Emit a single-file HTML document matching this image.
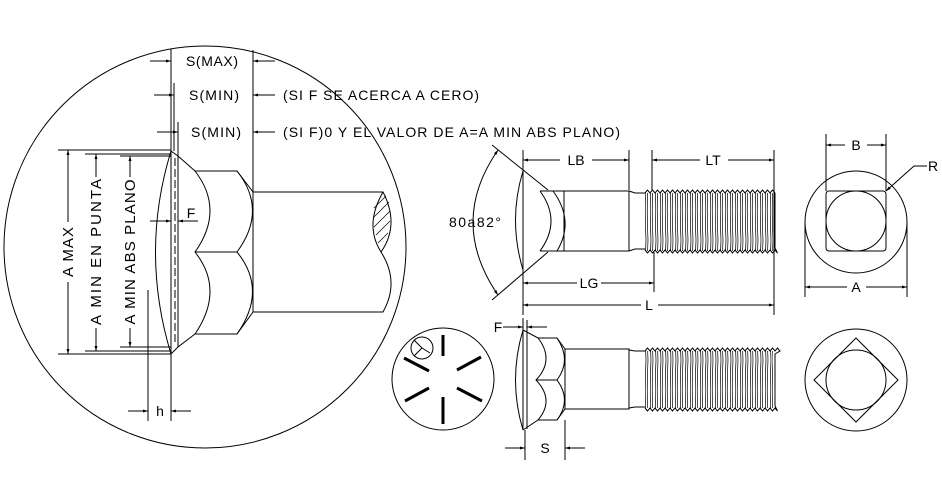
<!DOCTYPE html>
<html><head><meta charset="utf-8"><style>
html,body{margin:0;padding:0;background:#fff;}
svg{display:block;}
text{font-family:"Liberation Sans",sans-serif;font-size:14px;fill:#000;}
</style></head><body>
<svg width="942" height="504" viewBox="0 0 942 504" xmlns="http://www.w3.org/2000/svg">
<defs>
<marker id="ar" viewBox="0 0 10 6" refX="10" refY="3" markerWidth="7" markerHeight="3" orient="auto-start-reverse" markerUnits="userSpaceOnUse"><path d="M0,0L10,3L0,6z"/></marker>
<pattern id="thr" width="5" height="60" patternUnits="userSpaceOnUse">
<path d="M1,0 C0,20 0,40 1,60 M3,0 C2,20 2,40 3,60" stroke="#000" stroke-width="0.7" fill="none"/>
</pattern>
</defs>
<g fill="none" stroke="#000" stroke-width="1">
<circle cx="205" cy="247" r="201"/>
<line x1="171" y1="49" x2="171" y2="421"/>
<line x1="253" y1="50" x2="253" y2="192"/>
<line x1="174" y1="83" x2="174" y2="151"/>
<line x1="178" y1="122" x2="178" y2="156"/>
<line x1="150" y1="61" x2="171" y2="61" marker-end="url(#ar)"/>
<line x1="275" y1="61" x2="253" y2="61" marker-end="url(#ar)"/>
<line x1="154" y1="95" x2="174" y2="95" marker-end="url(#ar)"/>
<line x1="275" y1="95" x2="253" y2="95" marker-end="url(#ar)"/>
<line x1="157" y1="132" x2="178" y2="132" marker-end="url(#ar)"/>
<line x1="275" y1="132" x2="253" y2="132" marker-end="url(#ar)"/>
<line x1="58" y1="150" x2="171" y2="150"/><line x1="58" y1="354" x2="171" y2="354"/>
<line x1="85" y1="154" x2="171" y2="154"/><line x1="85" y1="351" x2="171" y2="351"/>
<line x1="120" y1="156" x2="171" y2="156"/><line x1="120" y1="347" x2="171" y2="347"/>
<line x1="68" y1="222" x2="68" y2="150" marker-end="url(#ar)"/>
<line x1="68" y1="282" x2="68" y2="354" marker-end="url(#ar)"/>
<line x1="96" y1="177" x2="96" y2="154" marker-end="url(#ar)"/>
<line x1="96" y1="328" x2="96" y2="351" marker-end="url(#ar)"/>
<line x1="130" y1="177" x2="130" y2="156" marker-end="url(#ar)"/>
<line x1="130" y1="328" x2="130" y2="347" marker-end="url(#ar)"/>
<path d="M171,151 Q140,252 171,354"/>
<line x1="178" y1="156" x2="178" y2="347"/>
<line x1="175" y1="158" x2="175" y2="345" stroke-dasharray="8,3"/>
<path d="M171,151 L178,156 L195,171 L237,171 L253,192 L253,312 L237,334 L195,334 L178,347 L171,354"/>
<path d="M195,171 Q225,210 195,252 Q225,290 195,334"/>
<path d="M237,171 Q268,210 237,252 Q268,290 237,334"/>
<line x1="195" y1="252" x2="237" y2="252"/>
<path d="M253,192 L383,192 Q400,225 381,252 Q400,282 383,312 L253,312"/>
<path d="M383,192 Q364,225 381,252"/>
<g stroke-width="0.7"><line x1="374" y1="208" x2="386" y2="196"/><line x1="373" y1="218" x2="389" y2="202"/><line x1="374" y1="227" x2="390" y2="211"/><line x1="376" y1="235" x2="390" y2="221"/><line x1="378" y1="243" x2="388" y2="233"/></g>
<line x1="150" y1="221" x2="171" y2="221" marker-end="url(#ar)"/>
<line x1="198" y1="221" x2="178" y2="221" marker-end="url(#ar)"/>
<line x1="148" y1="290" x2="148" y2="421"/>
<line x1="128" y1="411" x2="148" y2="411" marker-end="url(#ar)"/>
<line x1="191" y1="411" x2="171" y2="411" marker-end="url(#ar)"/>

<line x1="523" y1="150" x2="523" y2="315"/>
<path d="M523,171 Q508,220 523,270"/>
<line x1="492" y1="145" x2="548" y2="190"/>
<line x1="548" y1="252" x2="492" y2="300"/>
<path d="M498,150 Q448,222 498,295" marker-start="url(#ar)" marker-end="url(#ar)"/>
<path d="M540,191 L629,191 M540,251 L629,251 M564,191 L564,251 M629,191 L629,251"/>
<path d="M540,191 Q562,221 540,251"/>
<path d="M553,191 Q575,221 557,251"/>
<path d="M629,191 L635,193 L645,193 M629,251 L635,249 L645,249"/>
<rect x="645" y="193" width="128" height="58" fill="url(#thr)" stroke="none"/>
<path d="M645,193 l2.5,-3 2.5,3 2.5,-3 2.5,3 2.5,-3 2.5,3 2.5,-3 2.5,3 2.5,-3 2.5,3 2.5,-3 2.5,3 2.5,-3 2.5,3 2.5,-3 2.5,3 2.5,-3 2.5,3 2.5,-3 2.5,3 2.5,-3 2.5,3 2.5,-3 2.5,3 2.5,-3 2.5,3 2.5,-3 2.5,3 2.5,-3 2.5,3 2.5,-3 2.5,3 2.5,-3 2.5,3 2.5,-3 2.5,3 2.5,-3 2.5,3 2.5,-3 2.5,3 2.5,-3 2.5,3 2.5,-3 2.5,3 2.5,-3 2.5,3 2.5,-3 2.5,3 2.5,-3 2.5,3 2.5,-3 2.5,3 L775,196 L775,248"/>
<path d="M645,250 l2.5,3 2.5,-3 2.5,3 2.5,-3 2.5,3 2.5,-3 2.5,3 2.5,-3 2.5,3 2.5,-3 2.5,3 2.5,-3 2.5,3 2.5,-3 2.5,3 2.5,-3 2.5,3 2.5,-3 2.5,3 2.5,-3 2.5,3 2.5,-3 2.5,3 2.5,-3 2.5,3 2.5,-3 2.5,3 2.5,-3 2.5,3 2.5,-3 2.5,3 2.5,-3 2.5,3 2.5,-3 2.5,3 2.5,-3 2.5,3 2.5,-3 2.5,3 2.5,-3 2.5,3 2.5,-3 2.5,3 2.5,-3 2.5,3 2.5,-3 2.5,3 2.5,-3 2.5,3 2.5,-3 2.5,3 2.5,-3 2.5,3 L775,248"/>
<line x1="629" y1="150" x2="629" y2="190"/><line x1="652" y1="150" x2="652" y2="190"/>
<line x1="774" y1="150" x2="774" y2="315"/><line x1="654" y1="252" x2="654" y2="292"/>
<line x1="560" y1="160" x2="523" y2="160" marker-end="url(#ar)"/><line x1="592" y1="160" x2="629" y2="160" marker-end="url(#ar)"/>
<line x1="700" y1="160" x2="652" y2="160" marker-end="url(#ar)"/><line x1="728" y1="160" x2="774" y2="160" marker-end="url(#ar)"/>
<line x1="577" y1="283" x2="523" y2="283" marker-end="url(#ar)"/><line x1="601" y1="283" x2="654" y2="283" marker-end="url(#ar)"/>
<line x1="641" y1="305" x2="523" y2="305" marker-end="url(#ar)"/><line x1="658" y1="305" x2="774" y2="305" marker-end="url(#ar)"/>

<circle cx="856" cy="222" r="51"/>
<rect x="826" y="191" width="60" height="60" rx="3"/>
<circle cx="856" cy="221" r="30"/>
<line x1="826" y1="134" x2="826" y2="191"/><line x1="886" y1="134" x2="886" y2="191"/>
<line x1="845" y1="145" x2="826" y2="145" marker-end="url(#ar)"/><line x1="867" y1="145" x2="886" y2="145" marker-end="url(#ar)"/>
<path d="M927,166 L914,166 L886,191" marker-end="url(#ar)"/>
<line x1="805" y1="222" x2="805" y2="297"/><line x1="907" y1="222" x2="907" y2="297"/>
<line x1="847" y1="287" x2="805" y2="287" marker-end="url(#ar)"/><line x1="866" y1="287" x2="907" y2="287" marker-end="url(#ar)"/>

<circle cx="443" cy="379" r="51"/>
<circle cx="422" cy="348" r="11"/>
<path d="M422,348 L414,356 M422,348 L430,353 M414,340 L422,348"/>
<g stroke-width="3"><line x1="443" y1="335" x2="443" y2="356"/><line x1="457" y1="370" x2="481" y2="357"/><line x1="457" y1="388" x2="482" y2="401"/><line x1="443" y1="397" x2="443" y2="424"/><line x1="405" y1="401" x2="429" y2="388"/><line x1="404" y1="358" x2="429" y2="371"/></g>

<line x1="523" y1="318" x2="523" y2="430"/><line x1="527" y1="320" x2="527" y2="429"/>
<path d="M523,330 Q508,380 523,430"/>
<path d="M523,330 L538,338 L557,338 L565,349 L565,409 L557,420 L538,420 L523,430"/>
<path d="M538,338 Q555,360 536,380 Q555,400 538,420"/>
<path d="M557,338 Q572,360 557,380 Q572,400 557,420"/>
<line x1="536" y1="380" x2="557" y2="380"/>
<path d="M565,349 L629,349 L629,409 L565,409"/>
<path d="M629,350 L635,351 L645,351 M629,408 L635,407 L645,407"/>
<rect x="645" y="351" width="128" height="57" fill="url(#thr)" stroke="none"/>
<path d="M645,351 l2.5,-3 2.5,3 2.5,-3 2.5,3 2.5,-3 2.5,3 2.5,-3 2.5,3 2.5,-3 2.5,3 2.5,-3 2.5,3 2.5,-3 2.5,3 2.5,-3 2.5,3 2.5,-3 2.5,3 2.5,-3 2.5,3 2.5,-3 2.5,3 2.5,-3 2.5,3 2.5,-3 2.5,3 2.5,-3 2.5,3 2.5,-3 2.5,3 2.5,-3 2.5,3 2.5,-3 2.5,3 2.5,-3 2.5,3 2.5,-3 2.5,3 2.5,-3 2.5,3 2.5,-3 2.5,3 2.5,-3 2.5,3 2.5,-3 2.5,3 2.5,-3 2.5,3 2.5,-3 2.5,3 2.5,-3 2.5,3 2.5,-3 2.5,3 L775,354 L775,406"/>
<path d="M645,408 l2.5,3 2.5,-3 2.5,3 2.5,-3 2.5,3 2.5,-3 2.5,3 2.5,-3 2.5,3 2.5,-3 2.5,3 2.5,-3 2.5,3 2.5,-3 2.5,3 2.5,-3 2.5,3 2.5,-3 2.5,3 2.5,-3 2.5,3 2.5,-3 2.5,3 2.5,-3 2.5,3 2.5,-3 2.5,3 2.5,-3 2.5,3 2.5,-3 2.5,3 2.5,-3 2.5,3 2.5,-3 2.5,3 2.5,-3 2.5,3 2.5,-3 2.5,3 2.5,-3 2.5,3 2.5,-3 2.5,3 2.5,-3 2.5,3 2.5,-3 2.5,3 2.5,-3 2.5,3 2.5,-3 2.5,3 2.5,-3 2.5,3 L775,406"/>
<line x1="503" y1="327" x2="523" y2="327" marker-end="url(#ar)"/><line x1="547" y1="327" x2="527" y2="327" marker-end="url(#ar)"/>
<line x1="525" y1="430" x2="525" y2="460"/><line x1="565" y1="420" x2="565" y2="460"/>
<line x1="505" y1="448" x2="525" y2="448" marker-end="url(#ar)"/><line x1="585" y1="448" x2="565" y2="448" marker-end="url(#ar)"/>

<circle cx="856" cy="380" r="51"/>
<path d="M856,338 L898,380 L856,422 L814,380 Z"/>
<circle cx="856" cy="380" r="30"/>
</g>

<g>
<text x="212" y="66" text-anchor="middle" textLength="52">S(MAX)</text>
<text x="214" y="100" text-anchor="middle" textLength="50">S(MIN)</text>
<text x="216" y="137" text-anchor="middle" textLength="50">S(MIN)</text>
<text x="283" y="100" textLength="196">(SI F SE ACERCA A CERO)</text>
<text x="283" y="137" textLength="337">(SI F)0 Y EL VALOR DE A=A MIN ABS PLANO)</text>
<text x="191" y="218" text-anchor="middle">F</text>
<text x="160" y="416" text-anchor="middle">h</text>
<text transform="translate(73,252) rotate(-90)" text-anchor="middle" textLength="50" style="font-size:15px">A MAX</text>
<text transform="translate(101,252) rotate(-90)" text-anchor="middle" textLength="146" style="font-size:15px">A   MIN EN PUNTA</text>
<text transform="translate(135,252) rotate(-90)" text-anchor="middle" textLength="145" style="font-size:15px">A MIN ABS PLANO</text>
<text x="449" y="227" textLength="52">80a82°</text>
<text x="576" y="165" text-anchor="middle">LB</text>
<text x="713" y="165" text-anchor="middle">LT</text>
<text x="589" y="288" text-anchor="middle">LG</text>
<text x="649" y="310" text-anchor="middle">L</text>
<text x="856" y="150" text-anchor="middle">B</text>
<text x="933" y="171" text-anchor="middle">R</text>
<text x="856" y="292" text-anchor="middle">A</text>
<text x="498" y="332" text-anchor="middle">F</text>
<text x="545" y="453" text-anchor="middle">S</text>
</g>
</svg>
</body></html>
